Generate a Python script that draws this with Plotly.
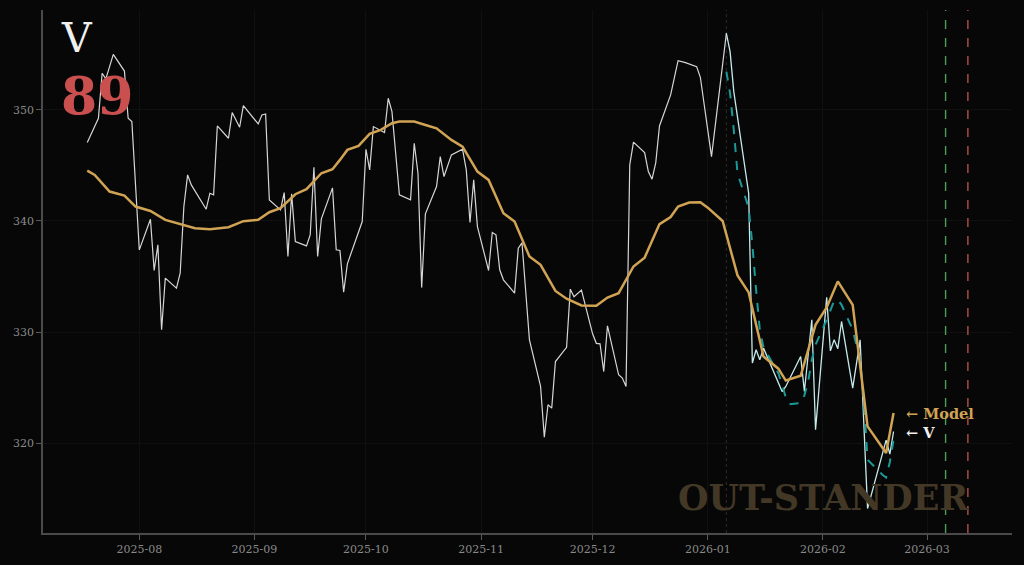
import plotly.graph_objects as go

# ---------------- data ----------------
hist_dates = ["2025-07-18","2025-07-21","2025-07-22","2025-07-23","2025-07-25","2025-07-28","2025-07-29","2025-07-30",
"2025-08-01","2025-08-04","2025-08-05","2025-08-06","2025-08-07","2025-08-08","2025-08-11","2025-08-12","2025-08-13",
"2025-08-14","2025-08-15","2025-08-19","2025-08-20","2025-08-21","2025-08-22","2025-08-25","2025-08-26","2025-08-28",
"2025-08-29","2025-09-02","2025-09-03","2025-09-04","2025-09-05","2025-09-08","2025-09-09","2025-09-10","2025-09-11",
"2025-09-12","2025-09-15","2025-09-16","2025-09-17","2025-09-18","2025-09-19","2025-09-22","2025-09-23","2025-09-24",
"2025-09-25","2025-09-26","2025-09-30","2025-10-01","2025-10-02","2025-10-03","2025-10-06","2025-10-07","2025-10-08",
"2025-10-10","2025-10-13","2025-10-14","2025-10-15","2025-10-16","2025-10-17","2025-10-20","2025-10-21","2025-10-22",
"2025-10-24","2025-10-27","2025-10-28","2025-10-29","2025-10-30","2025-10-31","2025-11-03","2025-11-04","2025-11-05",
"2025-11-06","2025-11-07","2025-11-10","2025-11-11","2025-11-12","2025-11-14","2025-11-17","2025-11-18","2025-11-19",
"2025-11-20","2025-11-21","2025-11-24","2025-11-25","2025-11-26","2025-11-28","2025-12-01","2025-12-02","2025-12-03",
"2025-12-04","2025-12-05","2025-12-08","2025-12-09","2025-12-10","2025-12-11","2025-12-12","2025-12-15","2025-12-16",
"2025-12-17","2025-12-18","2025-12-19","2025-12-22","2025-12-24","2025-12-26","2025-12-29","2025-12-30","2026-01-02",
"2026-01-06"]
hist_values = [347.06,349.25,353.3,352.8,355.0,353.5,349.25,348.95,
337.4,340.16,335.54,337.85,330.2,334.85,333.95,335.3,341.3,
344.15,343.25,341.06,342.5,342.35,348.56,347.45,349.76,348.44,
350.38,348.74,349.55,349.64,341.9,341.0,342.56,336.8,342.44,
338.15,337.76,338.75,344.84,336.8,340.19,342.98,337.4,337.35,
333.59,336.14,339.95,346.46,344.6,348.5,347.96,351.05,349.85,
342.35,341.9,347.0,344.3,334.0,340.64,343.1,345.8,344.0,
345.95,346.46,344.6,339.86,343.7,339.5,335.54,338.96,338.75,
335.6,334.7,333.5,337.55,338.03,329.3,325.1,320.52,323.45,
323.15,327.34,328.62,333.86,333.17,333.77,329.84,328.98,328.94,
326.44,330.56,326.15,325.85,325.1,345.05,347.1,346.16,344.45,
343.76,345.26,348.56,351.35,354.44,354.26,353.9,352.94,345.8,
356.9]

recent_dates = ["2026-01-06","2026-01-07","2026-01-08","2026-01-12","2026-01-13","2026-01-14","2026-01-15","2026-01-16",
"2026-01-21","2026-01-22","2026-01-26","2026-01-27","2026-01-29","2026-01-30","2026-02-02","2026-02-03","2026-02-04",
"2026-02-05","2026-02-06","2026-02-09","2026-02-11","2026-02-13","2026-02-18","2026-02-19","2026-02-20"]
recent_values = [356.9,355.25,351.65,342.5,327.2,328.4,327.5,328.55,
324.64,325.1,327.8,324.64,331.1,321.2,333.12,328.3,329.3,
328.5,330.95,324.95,329.3,314.1,320.27,319.0,321.04]

model_dates = ["2025-07-18","2025-07-20","2025-07-24","2025-07-28","2025-07-31","2025-08-04","2025-08-08","2025-08-12",
"2025-08-16","2025-08-20","2025-08-25","2025-08-29","2025-09-02","2025-09-05","2025-09-08","2025-09-12","2025-09-15",
"2025-09-19","2025-09-22","2025-09-24","2025-09-26","2025-09-29","2025-10-02","2025-10-05","2025-10-08","2025-10-10",
"2025-10-14","2025-10-17","2025-10-20","2025-10-24","2025-10-27","2025-10-31","2025-11-03","2025-11-07","2025-11-10",
"2025-11-14","2025-11-17","2025-11-21","2025-11-24","2025-11-28","2025-12-02","2025-12-05","2025-12-08","2025-12-12",
"2025-12-15","2025-12-19","2025-12-22","2025-12-24","2025-12-27","2025-12-30","2026-01-01","2026-01-05","2026-01-09",
"2026-01-12","2026-01-16","2026-01-20","2026-01-22","2026-01-26","2026-01-30","2026-02-02","2026-02-05","2026-02-09",
"2026-02-13","2026-02-18","2026-02-20"]
model_values = [344.54,344.15,342.65,342.29,341.3,340.9,340.1,339.74,
339.35,339.26,339.44,339.98,340.1,340.79,341.15,342.41,342.86,
344.3,344.66,345.5,346.4,346.76,347.84,348.2,348.8,348.95,
348.95,348.65,348.35,347.3,346.7,344.45,343.7,340.7,339.95,
336.8,336.05,333.7,333.0,332.39,332.36,333.1,333.5,335.9,
336.7,339.72,340.35,341.3,341.66,341.69,341.2,340.0,335.1,
333.57,327.8,326.7,325.63,326.06,330.65,332.22,334.56,332.45,
321.5,319.1,322.7]

forecast_dates = ["2026-01-06","2026-01-07","2026-01-08","2026-01-09","2026-01-12","2026-01-13","2026-01-14","2026-01-15",
"2026-01-16","2026-01-20","2026-01-21","2026-01-22","2026-01-23","2026-01-26","2026-01-27","2026-01-28","2026-01-29",
"2026-01-30","2026-02-02","2026-02-03","2026-02-04","2026-02-05","2026-02-06","2026-02-09","2026-02-10","2026-02-11",
"2026-02-12","2026-02-13","2026-02-17","2026-02-18","2026-02-19","2026-02-20"]
forecast_values = [353.45,351.5,348.2,344.3,341.2,337.85,333.8,330.2,
328.6,326.3,325.25,324.1,323.5,323.6,324.3,325.5,327.5,
328.85,331.1,332.0,332.8,332.9,332.45,330.2,328.85,327.5,
323.9,318.5,317.15,316.9,318.3,320.3]

forecast_start = "2026-01-06"
green_marker = "2026-03-06"
red_marker = "2026-03-12"

ticker = "V"
score = "89"
watermark = "OUT-STANDER"
x_ticks = ["2025-08-01","2025-09-01","2025-10-01","2025-11-01","2025-12-01","2026-01-01","2026-02-01","2026-03-01"]
x_tick_labels = ["2025-08","2025-09","2025-10","2025-11","2025-12","2026-01","2026-02","2026-03"]
y_ticks = [320, 330, 340, 350]

# ---------------- figure ----------------
BG = "#070707"
GOLD = "#d1a354"
SERIF = "DejaVu Serif"

fig = go.Figure()
fig.add_trace(go.Scatter(x=hist_dates, y=hist_values, mode="lines",
                         line=dict(color="#d6d6d6", width=1.2), showlegend=False))
fig.add_trace(go.Scatter(x=recent_dates, y=recent_values, mode="lines",
                         line=dict(color="#c6eaea", width=1.3), showlegend=False))
fig.add_trace(go.Scatter(x=forecast_dates, y=forecast_values, mode="lines",
                         line=dict(color="#1b9a9a", width=2, dash="dash"), showlegend=False))
fig.add_trace(go.Scatter(x=model_dates, y=model_values, mode="lines",
                         line=dict(color=GOLD, width=2.5), showlegend=False))

fig.add_shape(type="line", xref="x", yref="paper", x0=forecast_start, x1=forecast_start, y0=0, y1=1,
              line=dict(color="#2c2c2c", width=1, dash="dot"), layer="below")
fig.add_shape(type="line", xref="x", yref="paper", x0=green_marker, x1=green_marker, y0=0, y1=1,
              line=dict(color="#4f9d5c", width=1.4, dash="dash"))
fig.add_shape(type="line", xref="x", yref="paper", x0=red_marker, x1=red_marker, y0=0, y1=1,
              line=dict(color="#b4504b", width=1.4, dash="dash"))

fig.add_annotation(text=ticker, xref="paper", yref="paper", x=0.016, y=0.996, xanchor="left", yanchor="top",
                   showarrow=False, font=dict(family=SERIF, size=41, color="#f0f0f0"))
fig.add_annotation(text=f"<b>{score}</b>", xref="paper", yref="paper", x=0.017, y=0.899, xanchor="left", yanchor="top",
                   showarrow=False, font=dict(family=SERIF, size=52, color="#c9504f"))
fig.add_annotation(text=f"<b>{watermark}</b>", xref="paper", yref="paper", x=0.958, y=0.068, xanchor="right", yanchor="middle",
                   showarrow=False, font=dict(family=SERIF, size=35, color="#433826"))
fig.add_annotation(text="<b>← Model</b>", xref="paper", yref="paper", x=0.889, y=0.229, xanchor="left", yanchor="middle",
                   showarrow=False, font=dict(family=SERIF, size=14.5, color=GOLD))
fig.add_annotation(text="<b>← V</b>", xref="paper", yref="paper", x=0.889, y=0.193, xanchor="left", yanchor="middle",
                   showarrow=False, font=dict(family=SERIF, size=14.5, color="#f0f0f0"))

fig.update_layout(
    width=1024, height=565,
    paper_bgcolor=BG, plot_bgcolor=BG,
    margin=dict(l=43, r=12, t=10, b=32),
    font=dict(family=SERIF, size=11, color="#8a8a8a"),
    showlegend=False,
)
fig.update_xaxes(range=["2025-07-06 02:00", "2026-03-23 21:00"], tickvals=x_ticks, ticktext=x_tick_labels,
                 showline=True, linecolor="#4a4a4a", linewidth=1.5, ticks="outside", ticklen=5, tickcolor="#5a5a5a",
                 showgrid=True, gridcolor="#101010", zeroline=False, tickfont=dict(color="#8a8a8a", size=11))
fig.update_yaxes(range=[311.9, 359.0], tickvals=y_ticks,
                 showline=True, linecolor="#4a4a4a", linewidth=1.5, ticks="outside", ticklen=5, tickcolor="#5a5a5a",
                 showgrid=True, gridcolor="#101010", zeroline=False, tickfont=dict(color="#8a8a8a", size=11))

fig.write_html("out.html", config={"displayModeBar": False},
               post_script="document.body.style.margin='0';document.body.style.background='#070707';")
